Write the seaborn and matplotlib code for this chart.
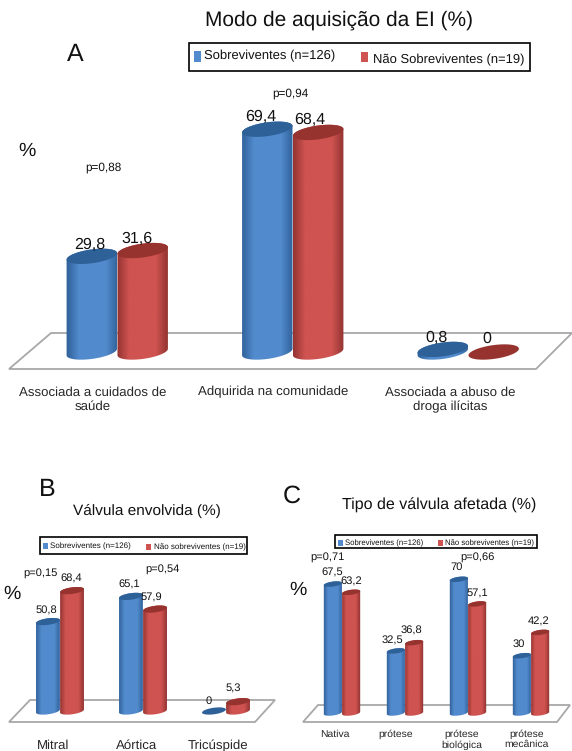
import numpy as np
import pandas as pd
import matplotlib
matplotlib.use("Agg")
import matplotlib.pyplot as plt
from matplotlib.colors import LinearSegmentedColormap
from matplotlib.patches import Polygon, Rectangle
import seaborn as sns

# panel A
cats_a = ["Associada a cuidados de\nsaúde", "Adquirida na comunidade", "Associada a abuso de\ndroga ilícitas"]
sobrev_a = [29.8, 69.4, 0.8]
nao_sobrev_a = [31.6, 68.4, 0]

# panel B
cats_b = ["Mitral", "Aórtica", "Tricúspide"]
sobrev_b = [50.8, 65.1, 0]
nao_sobrev_b = [68.4, 57.9, 5.3]

# panel C
cats_c = ["Nativa", "prótese", "prótese\nbiológica", "prótese\nmecânica"]
sobrev_c = [67.5, 32.5, 70, 30]
nao_sobrev_c = [63.2, 36.8, 57.1, 42.2]

W, H = 572, 751
BLUE = ("#2c5c94", "#528bcd", "#2f6199")
RED = ("#8a2f2d", "#cf5350", "#97332f")

sns.set_theme(style="white")
plt.rcParams["font.family"] = ["Liberation Sans", "DejaVu Sans"]
plt.rcParams["text.color"] = "#111111"
plt.rcParams["text.hinting"] = "none"

fig = plt.figure(figsize=(W / 100, H / 100), dpi=100)

# background axes in pixel coordinates, for floors, legends and free text
bg = fig.add_axes([0, 0, 1, 1], zorder=0)
bg.set_xlim(0, W)
bg.set_ylim(H, 0)
bg.axis("off")


def ellipse_pts(cx, cy, a, b, t):
    tilt = np.radians(-8)
    return (cx + a * np.cos(t) * np.cos(tilt) - b * np.sin(t) * np.sin(tilt),
            cy + a * np.cos(t) * np.sin(tilt) + b * np.sin(t) * np.cos(tilt))


def draw_panel(cats, s1, s2, left, spacing, base_y, scale, tick_fs, label_fs, pad, tick_shift, offs):
    n = len(cats)
    ymax = 80
    ymin = -12 / scale  # room under zero for the round bar bottoms
    ax = fig.add_axes([left / W, 1 - (base_y + 12) / H, n * spacing / W, (ymax - ymin) * scale / H], zorder=1)
    df = pd.DataFrame({"cat": list(range(n)) * 2,
                       "valor": s1 + s2,
                       "grupo": ["s"] * n + ["n"] * n})
    sns.barplot(data=df, x="cat", y="valor", hue="grupo", hue_order=["s", "n"],
                palette=[BLUE[1], RED[1]], width=0.58, gap=0, legend=False, ax=ax)
    ax.patch.set_alpha(0)
    sns.despine(ax=ax, left=True, bottom=True)
    ax.set_xlabel("")
    ax.set_ylabel("")
    ax.set_yticks([])
    ax.set_xticks(np.arange(n) + np.array(tick_shift) / spacing, cats, fontsize=tick_fs)
    ax.tick_params(axis="x", length=0, pad=pad)

    vals = s1 + s2
    colors = [BLUE] * n + [RED] * n
    for i, bar in enumerate(list(ax.patches)):
        v = vals[i]
        col = colors[i]
        w = bar.get_width()
        cx = bar.get_x() + w / 2
        bar.set_facecolor("none")
        bar.set_edgecolor("none")
        a_px = w * spacing / 2
        b_px = a_px * 0.27
        if v > 0:
            bx, by = ellipse_pts(0, 0, a_px, b_px, np.linspace(0, np.pi, 40))
            tx, ty = ellipse_pts(0, -v * scale, a_px, b_px, np.linspace(np.pi, 2 * np.pi, 40))
            pts = np.c_[cx + np.r_[bx, tx] / spacing, -np.r_[by, ty] / scale]
            body = Polygon(pts, closed=True, fc="none", ec="none", transform=ax.transData)
            ax.add_patch(body)
            grad = LinearSegmentedColormap.from_list("g", [col[0], col[1], col[1], col[1], col[0]])
            im = ax.imshow(np.linspace(0, 1, 64).reshape(1, -1), cmap=grad, aspect="auto",
                           extent=[cx - w / 2 - 0.01, cx + w / 2 + 0.01, ymin, v + 10 / scale],
                           zorder=2 + i * 0.01, interpolation="bilinear")
            im.set_clip_path(body)
        ex, ey = ellipse_pts(0, -v * scale, a_px, b_px, np.linspace(0, 2 * np.pi, 80))
        ax.add_patch(Polygon(np.c_[cx + ex / spacing, -ey / scale], closed=True, fc=col[2], ec="none",
                             zorder=2.5 + i * 0.01))
        ax.annotate(f"{v:g}".replace(".", ","), (cx, v), xytext=(offs[i][0] * 0.72, offs[i][1] * 0.72),
                    textcoords="offset points", ha="center", va="center", fontsize=label_fs,
                    zorder=5, annotation_clip=False)
    ax.set_xlim(-0.5, n - 0.5)
    ax.set_ylim(ymin, ymax)
    return ax


def floor(pts):
    bg.add_patch(Polygon(pts, closed=True, fc="white", ec="#a8a8a8", lw=1.3))


def legend_box(box, blue_sq, blue_text, red_sq, red_text, fs):
    bg.add_patch(Rectangle((box[0], box[1]), box[2] - box[0], box[3] - box[1], fc="white", ec="black", lw=1.2))
    bg.add_patch(Rectangle((blue_sq[0], blue_sq[1]), blue_sq[2], blue_sq[3], fc=BLUE[1], ec="none"))
    bg.add_patch(Rectangle((red_sq[0], red_sq[1]), red_sq[2], red_sq[3], fc=RED[1], ec="none"))
    bg.text(blue_text[0], blue_text[1], blue_text[2], fontsize=fs, va="center", ha="left")
    bg.text(red_text[0], red_text[1], red_text[2], fontsize=fs, va="center", ha="left")


floor([(9, 369), (536, 369), (572, 333), (51, 333)])
floor([(9, 722), (255, 722), (275, 700), (30, 700)])
floor([(303, 722), (557, 722), (570, 705), (318, 705)])

draw_panel(cats_a, sobrev_a, nao_sobrev_a, 29.5, 175.5, 352, 3.21, 9.5, 11.5, 16, [-24.5, -19.5, -18.5],
           [(-2, 12), (-7, 12), (-6, 12), (-6, 12), (-8, 13), (-7, 13)])
draw_panel(cats_b, sobrev_b, nao_sobrev_b, 18.5, 83, 711, 1.76, 9.5, 8, 12, [-7.3, -6.3, -8.3],
           [(-2, 11), (-2, 12), (-5, 10), (-1, 12), (-4, 11), (-5, 13)])
draw_panel(cats_c, sobrev_c, nao_sobrev_c, 310.5, 63, 713, 1.91, 7.5, 8, 3, [-7, -9, -6, -4],
           [(-1, 11), (-3, 10), (-2, 12), (-3, 12), (0, 11), (-3, 12), (0, 11), (-2, 11)])

bg.text(339, 20, "Modo de aquisição da EI (%)", fontsize=15, ha="center", va="center")
bg.text(147, 511, "Válvula envolvida (%)", fontsize=11.1, ha="center", va="center")
bg.text(439, 505, "Tipo de válvula afetada (%)", fontsize=11.5, ha="center", va="center")

bg.text(75, 55, "A", fontsize=18, ha="center", va="center")
bg.text(47, 490, "B", fontsize=18, ha="center", va="center")
bg.text(292, 496, "C", fontsize=18, ha="center", va="center")

bg.text(27, 151, "%", fontsize=14, ha="center", va="center")
bg.text(12, 594, "%", fontsize=14, ha="center", va="center")
bg.text(298, 590, "%", fontsize=14, ha="center", va="center")

bg.text(103, 167, "p=0,88", fontsize=8.5, ha="center", va="center")
bg.text(290, 93, "p=0,94", fontsize=8.5, ha="center", va="center")
bg.text(40, 573, "p=0,15", fontsize=8, ha="center", va="center")
bg.text(162, 569, "p=0,54", fontsize=8, ha="center", va="center")
bg.text(327, 557, "p=0,71", fontsize=8, ha="center", va="center")
bg.text(477, 557, "p=0,66", fontsize=8, ha="center", va="center")

legend_box((189, 43, 530, 71), (194, 51, 7, 11), (204, 56, "Sobreviventes (n=126)"),
           (361, 52, 7, 10), (373, 60, "Não Sobreviventes (n=19)"), 9.4)
legend_box((40, 537, 247, 554), (43, 543, 5, 6), (50, 546, "Sobreviventes (n=126)"),
           (146, 544, 5, 6), (154, 547, "Não sobreviventes (n=19)"), 5.8)
legend_box((335, 535, 537, 548), (338, 540, 5, 6), (345, 543, "Sobreviventes (n=126)"),
           (438, 540, 5, 6), (445, 543, "Não sobreviventes (n=19)"), 5.6)

fig.savefig("out.png", dpi=100)
